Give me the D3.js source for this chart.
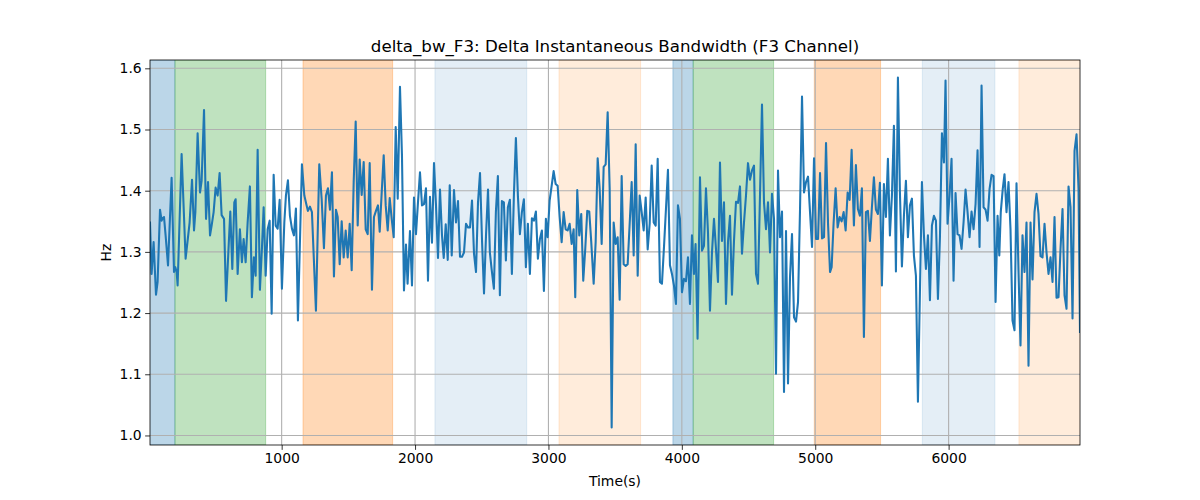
<!DOCTYPE html>
<html>
<head>
<meta charset="utf-8">
<script src="https://cdn.jsdelivr.net/npm/d3@7"></script>
<style>
  html, body { margin: 0; padding: 0; background: #fff; }
  svg { display: block; font-family: "DejaVu Sans", sans-serif; }
</style>
</head>
<body>
<svg id="chart" width="1200" height="500"></svg>
<script>
const times = [
13,25,40,58,70,88,100,108,118,130,148,175,193,203,213,220,250,280,310,328,343,353,370,388,400,418,433,448,463,475,490,505,520,535,550,568,583,615,630,645,
655,670,687,702,715,730,745,762,777,792,805,820,837,852,865,880,895,910,925,940,955,970,985,1002,1020,1032,1047,1062,1077,1092,1107,1122,1137,1152,1170,1185,1197,1212,1227,1257,
1282,1300,1317,1332,1347,1362,1377,1392,1407,1420,1435,1450,1465,1480,1495,1510,1525,1540,1555,1570,1585,1600,1615,1630,1645,1660,1677,1692,1707,1722,1735,1750,1765,1780,1795,1810,1825,1840,1855,1870,1887,1902,1917,
1932,1944,1962,1977,1992,2007,2022,2037,2052,2067,2082,2097,2112,2127,2142,2157,2172,2187,2202,2215,2230,2245,2260,2275,2292,2307,2322,2337,2352,2367,2382,2397,2412,2427,2442,2457,2472,2487,2502,2517,2532,2547,
2561,2574,2591,2606,2621,2636,2651,2666,2681,2696,2711,2726,2741,2756,2771,2786,2801,2816,2831,2846,2861,2876,2891,2906,2921,2936,2951,2966,2981,2994,3009,3024,3039,3054,3069,3084,3099,3114,3129,3144,3159,3174,3189,
3201,3216,3231,3246,3261,3276,3291,3306,3321,3339,3354,3369,3384,3399,3414,3429,3444,3459,3474,3489,3504,3519,3534,3549,3564,3579,3594,3609,3624,3639,3654,3669,3684,3699,3714,3729,3744,3759,3774,3789,3804,3819,
3836,3851,3866,3881,3896,3911,3926,3941,3956,3971,3986,4001,4016,4031,4046,4061,4076,4091,4103,4118,4136,4151,4166,4181,4196,4211,4226,4241,4256,4271,4286,4301,4316,4331,4346,4361,4376,4391,4406,4421,4436,4451,
4466,4481,4496,4511,4526,4541,4556,4571,4586,4601,4616,4631,4646,4661,4676,4691,4706,4721,4736,4751,4766,4781,4796,4811,4826,4841,4856,4871,4886,4901,4916,4931,4946,4961,4976,4991,5006,5021,5036,5051,5066,5081,5096,5111,
5123,5138,5153,5168,5183,5198,5213,5228,5243,5258,5273,5290,5305,5320,5335,5350,5365,5380,5395,5410,5425,5440,5455,5470,5485,5500,5515,5530,5545,5560,5575,5590,5605,5620,5635,5650,5665,5680,5695,5710,5725,
5740,5755,5770,5800,5815,5830,5845,5860,5875,5890,5905,5920,5935,5950,5965,5977,5992,6007,6022,6037,6052,6067,6082,6097,6112,6127,6142,6157,6172,6187,6202,6217,6232,6247,6262,6277,6292,6307,6322,6337,6352,6367,
6380,6391,6406,6419,6434,6449,6464,6479,6494,6509,6524,6539,6554,6569,6584,6599,6614,6629,6644,6659,6674,6689,6704,6719,6734,6749,6764,6779,6794,6809,6824,6839,6854,6869,6884,6899,6914,6929,6944,6959,6974,6985
];
const values = [
1.348,1.264,1.316,1.230,1.251,1.369,1.351,1.355,1.357,1.327,1.278,1.421,1.267,1.275,1.267,1.245,1.460,1.289,1.348,1.418,1.335,1.365,1.494,1.397,1.416,1.532,1.354,1.414,1.327,1.343,1.365,1.405,1.392,1.429,1.360,1.354,1.220,1.366,1.272,1.381,
1.386,1.264,1.337,1.283,1.321,1.283,1.348,1.407,1.226,1.291,1.261,1.467,1.238,1.305,1.373,1.261,1.337,1.351,1.199,1.426,1.343,1.338,1.385,1.240,1.348,1.392,1.417,1.359,1.338,1.327,1.371,1.188,1.316,1.443,1.392,1.378,1.367,1.374,1.365,1.204,
1.443,1.386,1.306,1.392,1.404,1.369,1.430,1.260,1.369,1.357,1.280,1.350,1.291,1.335,1.291,1.346,1.270,1.414,1.513,1.343,1.451,1.393,1.447,1.337,1.329,1.445,1.238,1.357,1.367,1.376,1.333,1.397,1.458,1.376,1.335,1.388,1.354,1.324,1.504,1.387,1.570,1.457,1.237,
1.312,1.248,1.334,1.245,1.389,1.329,1.381,1.430,1.376,1.378,1.404,1.253,1.390,1.315,1.445,1.376,1.290,1.402,1.327,1.290,1.345,1.287,1.409,1.294,1.401,1.348,1.383,1.292,1.292,1.299,1.346,1.340,1.340,1.384,1.297,1.267,1.381,1.429,1.319,1.232,1.327,1.402,
1.299,1.272,1.240,1.365,1.424,1.229,1.383,1.381,1.286,1.373,1.385,1.264,1.392,1.486,1.392,1.329,1.365,1.386,1.275,1.346,1.264,1.355,1.351,1.366,1.289,1.321,1.335,1.236,1.354,1.324,1.384,1.408,1.432,1.411,1.408,1.357,1.316,1.365,1.337,1.335,1.346,1.313,1.337,
1.226,1.401,1.327,1.362,1.253,1.305,1.367,1.366,1.316,1.248,1.316,1.453,1.403,1.313,1.439,1.443,1.528,1.403,1.013,1.348,1.313,1.324,1.222,1.424,1.280,1.277,1.280,1.346,1.414,1.294,1.476,1.261,1.392,1.365,1.335,1.389,1.304,1.346,1.441,1.348,1.343,1.452,
1.251,1.248,1.307,1.370,1.434,1.278,1.264,1.245,1.215,1.376,1.354,1.234,1.256,1.252,1.291,1.215,1.327,1.264,1.313,1.158,1.422,1.302,1.310,1.404,1.332,1.204,1.299,1.354,1.305,1.251,1.446,1.318,1.381,1.215,1.316,1.359,1.230,1.318,1.382,1.380,1.407,1.297,
1.348,1.392,1.445,1.418,1.433,1.441,1.264,1.248,1.392,1.541,1.381,1.337,1.381,1.299,1.395,1.354,1.101,1.433,1.324,1.366,1.071,1.334,1.085,1.259,1.329,1.193,1.186,1.218,1.369,1.554,1.397,1.414,1.423,1.365,1.308,1.453,1.321,1.321,1.429,1.322,1.324,1.478,1.346,1.267,
1.275,1.348,1.404,1.340,1.357,1.350,1.365,1.335,1.397,1.385,1.467,1.343,1.442,1.370,1.359,1.404,1.161,1.365,1.367,1.318,1.373,1.422,1.369,1.362,1.413,1.245,1.411,1.357,1.452,1.327,1.392,1.506,1.268,1.585,1.397,1.276,1.359,1.416,1.324,1.376,1.387,
1.294,1.261,1.055,1.414,1.327,1.272,1.327,1.221,1.343,1.359,1.351,1.223,1.324,1.494,1.446,1.580,1.346,1.392,1.452,1.253,1.396,1.329,1.327,1.305,1.348,1.402,1.365,1.324,1.366,1.337,1.378,1.466,1.308,1.572,1.373,1.369,1.351,1.403,1.426,1.424,1.218,1.359,
1.294,1.365,1.403,1.427,1.365,1.414,1.337,1.188,1.172,1.412,1.267,1.147,1.327,1.267,1.348,1.114,1.348,1.255,1.365,1.395,1.362,1.293,1.291,1.346,1.299,1.264,1.291,1.251,1.357,1.225,1.226,1.305,1.370,1.229,1.207,1.407,1.373,1.191,1.465,1.492,1.403,1.169
];

// shaded time regions
const spanStarts = [0, 200, 1160, 2149, 3079, 3933, 4085, 4993, 5803, 6527];
const spanEnds   = [200, 880, 1832, 2837, 3691, 4085, 4688, 5490, 6347, 7000];
const spanColors = ["#1f77b4","#2ca02c","#ff7f0e","#1f77b4","#ff7f0e","#1f77b4","#2ca02c","#ff7f0e","#1f77b4","#ff7f0e"];
const spanAlphas = [0.3, 0.3, 0.3, 0.12, 0.15, 0.3, 0.3, 0.3, 0.12, 0.15];

const xTicks = [1000, 2000, 3000, 4000, 5000, 6000];
const yTicks = [1.0, 1.1, 1.2, 1.3, 1.4, 1.5, 1.6];

const titleText = "delta_bw_F3: Delta Instantaneous Bandwidth (F3 Channel)";
const xLabel = "Time(s)";
const yLabel = "Hz";

const W = 1200, H = 500;
const m = { left: 150, right: 120, top: 60, bottom: 55 };
const pw = W - m.left - m.right, ph = H - m.top - m.bottom;

const svg = d3.select("#chart");
const data = times.map((t, i) => ({ t, v: values[i] }));

const x = d3.scaleLinear().domain([times[0], times[times.length - 1]]).range([0, pw]);
const vmin = d3.min(values), vmax = d3.max(values), pad = (vmax - vmin) * 0.05;
const y = d3.scaleLinear().domain([vmin - pad, vmax + pad]).range([ph, 0]);

svg.append("defs").append("clipPath").attr("id", "clip")
  .append("rect").attr("width", pw).attr("height", ph);

const g = svg.append("g").attr("transform", `translate(${m.left},${m.top})`);

// spans
const spans = spanStarts.map((s, i) => ({ s, e: spanEnds[i], c: spanColors[i], a: spanAlphas[i] }));
g.append("g").attr("clip-path", "url(#clip)")
  .selectAll("rect").data(spans).join("rect")
  .attr("x", d => x(d.s)).attr("width", d => x(d.e) - x(d.s))
  .attr("y", 0).attr("height", ph)
  .attr("fill", d => d.c).attr("fill-opacity", d => d.a)
  .attr("stroke", d => d.c).attr("stroke-opacity", d => d.a).attr("stroke-width", 1);

// grid
const grid = g.append("g");
grid.selectAll("line.gx").data(xTicks).join("line")
  .attr("x1", d => x(d)).attr("x2", d => x(d)).attr("y1", 0).attr("y2", ph)
  .attr("stroke", "#b0b0b0").attr("stroke-width", 1.1);
grid.selectAll("line.gy").data(yTicks).join("line")
  .attr("y1", d => y(d)).attr("y2", d => y(d)).attr("x1", 0).attr("x2", pw)
  .attr("stroke", "#b0b0b0").attr("stroke-width", 1.1);

// line
g.append("path").datum(data).attr("clip-path", "url(#clip)")
  .attr("d", d3.line().x(d => x(d.t)).y(d => y(d.v)))
  .attr("fill", "none").attr("stroke", "#1f77b4").attr("stroke-width", 2.08)
  .attr("stroke-linejoin", "round").attr("stroke-linecap", "square");

// axes
const xAxis = g.append("g").attr("transform", `translate(0,${ph})`)
  .call(d3.axisBottom(x).tickValues(xTicks).tickFormat(d3.format("d")).tickSize(4.86).tickPadding(3.5));
const yAxis = g.append("g")
  .call(d3.axisLeft(y).tickValues(yTicks).tickFormat(d3.format(".1f")).tickSize(4.86).tickPadding(3.5));
[xAxis, yAxis].forEach(a => {
  a.select(".domain").remove();
  a.selectAll(".tick line").attr("stroke", "#000").attr("stroke-width", 0.8);
  a.selectAll(".tick text").attr("fill", "#000").style("font-size", "13.9px").style("font-family", "DejaVu Sans");
});

// frame
g.append("rect").attr("width", pw).attr("height", ph)
  .attr("fill", "none").attr("stroke", "#000").attr("stroke-width", 0.8);

// labels
svg.append("text").attr("x", m.left + pw / 2).attr("y", 52)
  .attr("text-anchor", "middle").style("font-size", "16.67px").text(titleText);
svg.append("text").attr("x", m.left + pw / 2).attr("y", 486)
  .attr("text-anchor", "middle").style("font-size", "13.9px").text(xLabel);
svg.append("text").attr("transform", `translate(111,${m.top + ph / 2}) rotate(-90)`)
  .attr("text-anchor", "middle").style("font-size", "13.9px").text(yLabel);
</script>
</body>
</html>
